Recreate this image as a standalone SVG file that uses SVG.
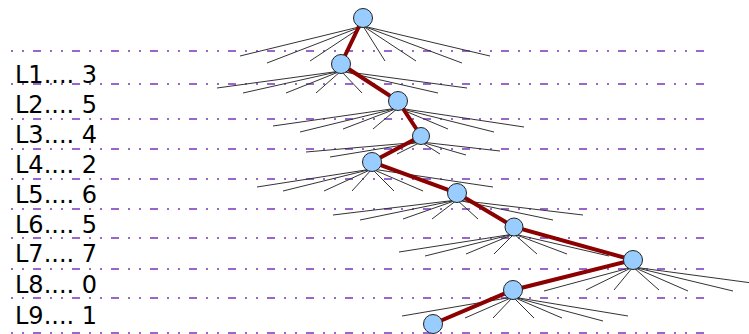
<svg xmlns="http://www.w3.org/2000/svg" width="749" height="334" viewBox="0 0 749 334">
<style>
.lvl{stroke:#9966cc;stroke-width:2;stroke-dasharray:2 9 2 9 8 9;fill:none}
.lbl{font-family:"DejaVu Sans",sans-serif;font-size:24px;fill:#000}
.br{stroke:#333;stroke-width:1;fill:none}
.path{stroke:#8b0000;stroke-width:4;fill:none;stroke-linecap:round}
.node{fill:#99ccff;stroke:#222;stroke-width:1}
</style>
<rect width="749" height="334" fill="#fff"/>
<g id="levels">
<line class="lvl" x1="11" y1="51" x2="704" y2="51"/>
<line class="lvl" x1="11" y1="84" x2="704" y2="84"/>
<line class="lvl" x1="11" y1="119" x2="704" y2="119"/>
<line class="lvl" x1="11" y1="149" x2="704" y2="149"/>
<line class="lvl" x1="11" y1="179" x2="704" y2="179"/>
<line class="lvl" x1="11" y1="209" x2="704" y2="209"/>
<line class="lvl" x1="11" y1="238" x2="704" y2="238"/>
<line class="lvl" x1="11" y1="269" x2="704" y2="269"/>
<line class="lvl" x1="11" y1="298" x2="704" y2="298"/>
<line class="lvl" x1="11" y1="333" x2="704" y2="333"/>
</g>
<g id="labels">
<text class="lbl" x="15" y="83">L1.... 3</text>
<text class="lbl" x="15" y="113">L2.... 5</text>
<text class="lbl" x="15" y="143">L3.... 4</text>
<text class="lbl" x="15" y="173">L4.... 2</text>
<text class="lbl" x="15" y="203">L5.... 6</text>
<text class="lbl" x="15" y="233">L6.... 5</text>
<text class="lbl" x="15" y="262">L7.... 7</text>
<text class="lbl" x="15" y="293">L8.... 0</text>
<text class="lbl" x="15" y="324">L9.... 1</text>
</g>
<g id="connectors">
<g class="br">
<path d="M363 26L240 56M363 26L267 63M363 26L310 61M363 26L385 61M363 26L416 61M363 26L462 63M363 26L490 56"/>
<path d="M341 71L217 88M341 71L243 93M341 71L286 93M341 71L316 93M341 71L362 93M341 71L438 93M341 71L467 88"/>
<path d="M398 108L273 126M398 108L300 132M398 108L343 129M398 108L373 129M398 108L448 129M398 108L494 132M398 108L524 127"/>
<path d="M421 142L306 152M421 142L330 157M421 142L397 154M421 142L440 154M421 142L466 155M421 142L500 151"/>
<path d="M372 169L257 187M372 169L283 191M372 169L324 191M372 169L352 191M372 169L394 191M372 169L423 191M372 169L493 187"/>
<path d="M457 200L333 215M457 200L360 220M457 200L403 219M457 200L432 219M457 200L478 219M457 200L553 220M457 200L583 215"/>
<path d="M514 234L399 252M514 234L425 256M514 234L466 254M514 234L494 254M514 234L537 254M514 234L567 254M514 234L609 256"/>
<path d="M633 267L544 291M633 267L586 290M633 267L614 290M633 267L659 290M633 267L688 291M633 267L733 291M633 267L752 283"/>
<path d="M513 297L402 316M513 297L465 318M513 297L493 318M513 297L534 318M513 297L562 318M513 297L603 321M513 297L628 316"/>
</g>
<polyline class="path" points="363,18 341,64 398,101 421,136 372,162 457,193 514,227 633,260 513,290 433,324"/>
</g>
<g id="n0"><circle class="node" cx="363" cy="18" r="9.5"/></g>
<g id="n1"><circle class="node" cx="341" cy="64" r="9.5"/></g>
<g id="n2"><circle class="node" cx="398" cy="101" r="9.5"/></g>
<g id="n3"><circle class="node" cx="421" cy="136" r="8.5"/></g>
<g id="n4"><circle class="node" cx="372" cy="162" r="9.5"/></g>
<g id="n5"><circle class="node" cx="457" cy="193" r="9.5"/></g>
<g id="n6"><circle class="node" cx="514" cy="227" r="9"/></g>
<g id="n7"><circle class="node" cx="633" cy="260" r="9.5"/></g>
<g id="n8"><circle class="node" cx="513" cy="290" r="9.5"/></g>
<g id="n9"><circle class="node" cx="433" cy="324" r="9.5"/></g>
</svg>
